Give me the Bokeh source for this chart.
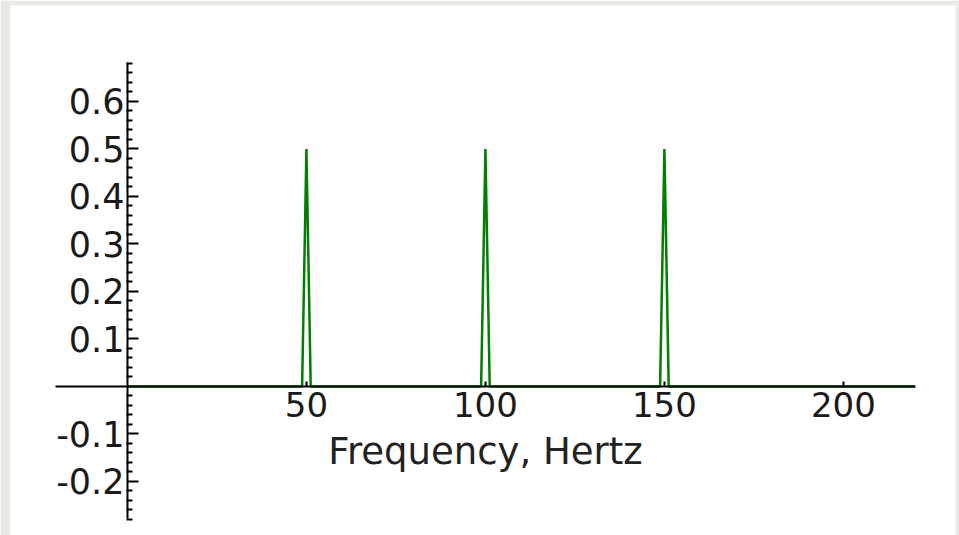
from bokeh.plotting import figure
from bokeh.models import FixedTicker, Range1d, LinearAxis
from bokeh.embed import file_html
from bokeh.resources import INLINE

# Spectrum (frequency in Hz, amplitude)
freq = [0, 48.8, 50, 51.2, 98.8, 100, 101.2, 148.8, 150, 151.2, 220]
amp = [0, 0, 0.5, 0, 0, 0.5, 0, 0, 0.5, 0, 0]

x_ticks = [50, 100, 150, 200]
x_tick_labels = ["50", "100", "150", "200"]
y_ticks = [-0.2, -0.1, 0.1, 0.2, 0.3, 0.4, 0.5, 0.6]
y_tick_labels = ["-0.2", "-0.1", "0.1", "0.2", "0.3", "0.4", "0.5", "0.6"]
y_minor_ticks = [-0.28, -0.26, -0.24, -0.22, -0.18, -0.16, -0.14, -0.12,
                 -0.08, -0.06, -0.04, -0.02, 0.02, 0.04, 0.06, 0.08,
                 0.12, 0.14, 0.16, 0.18, 0.22, 0.24, 0.26, 0.28,
                 0.32, 0.34, 0.36, 0.38, 0.42, 0.44, 0.46, 0.48,
                 0.52, 0.54, 0.56, 0.58, 0.62, 0.64, 0.66, 0.68]

FONT = "DejaVu Sans"

p = figure(width=959, height=535,
           x_range=Range1d(-32.66, 231.31), y_range=Range1d(-0.3137, 0.8021),
           output_backend="svg", toolbar_location=None,
           x_axis_type=None, y_axis_type=None,
           min_border_left=10, min_border_right=4, min_border_top=5, min_border_bottom=0)
p.outline_line_color = None
p.background_fill_color = "white"
p.border_fill_color = "#ebe9e6"
p.xgrid.visible = False
p.ygrid.visible = False

p.line(freq, amp, line_color="#008000", line_width=2.5)

xaxis = LinearAxis(fixed_location=0, bounds=(-20, 220),
                   ticker=FixedTicker(ticks=x_ticks, minor_ticks=[]),
                   major_label_overrides=dict(zip(x_ticks, x_tick_labels)),
                   axis_label="Frequency, Hertz")
xaxis.axis_line_color = "black"
xaxis.axis_line_width = 2
xaxis.major_tick_in = 5
xaxis.major_tick_out = 0
xaxis.major_tick_line_width = 2
xaxis.minor_tick_in = 0
xaxis.minor_tick_out = 0
xaxis.major_label_standoff = 6
xaxis.major_label_text_font = FONT
xaxis.major_label_text_font_size = "34px"
xaxis.major_label_text_color = "#1a1a1a"
xaxis.axis_label_text_font = FONT
xaxis.axis_label_text_font_size = "37px"
xaxis.axis_label_text_font_style = "normal"
xaxis.axis_label_text_color = "#222222"
xaxis.axis_label_standoff = 9
p.add_layout(xaxis, "below")

yaxis = LinearAxis(fixed_location=0, bounds=(-0.278, 0.682),
                   ticker=FixedTicker(ticks=y_ticks, minor_ticks=y_minor_ticks),
                   major_label_overrides=dict(zip(y_ticks, y_tick_labels)))
yaxis.axis_line_color = "black"
yaxis.axis_line_width = 2
yaxis.major_tick_in = 11
yaxis.major_tick_out = 0
yaxis.major_tick_line_width = 2
yaxis.minor_tick_in = 5
yaxis.minor_tick_out = 1
yaxis.minor_tick_line_width = 2
yaxis.major_label_standoff = 2
yaxis.major_label_text_font = FONT
yaxis.major_label_text_font_size = "35px"
yaxis.major_label_text_color = "#1a1a1a"
p.add_layout(yaxis, "left")

open("out.html", "w").write(file_html(p, INLINE))
